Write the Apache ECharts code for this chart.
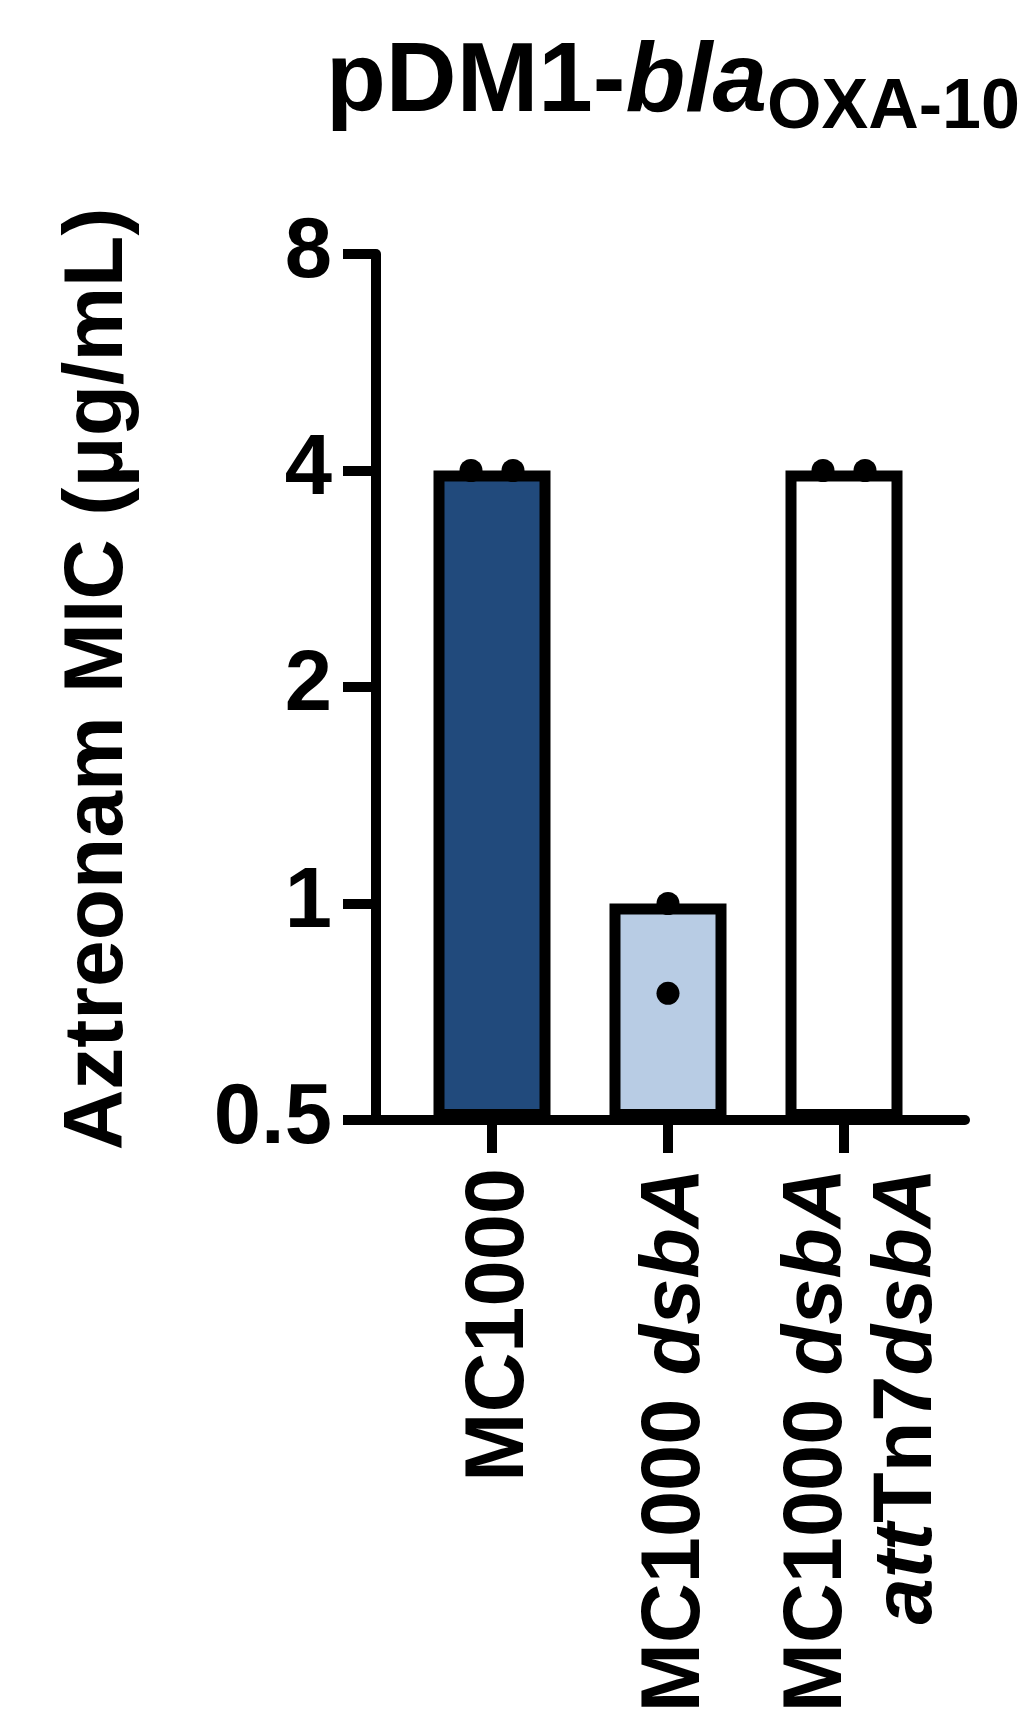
<!DOCTYPE html>
<html>
<head>
<meta charset="utf-8">
<script src="https://cdn.jsdelivr.net/npm/echarts@6/dist/echarts.min.js"></script>
<style>
  html, body { margin: 0; padding: 0; background: #ffffff; }
  #chart { width: 1019px; height: 1734px; }
</style>
</head>
<body>
<div id="chart"></div>
<script>
// ---- data ----
const categories = ['MC1000', 'MC1000 dsbA', 'MC1000 dsbA attTn7dsbA'];
const categoryLabelsRich = [
  '{n|MC1000}',
  '{n|MC1000 }{i|dsbA}',
  '{n|MC1000 }{i|dsbA}\n{i|att}{n|Tn7}{i|dsbA}'
];
const barValues = [4, 1, 4];
const replicateValues = [[4, 4], [1, 0.75], [4, 4]];
const yTickValues = [0.5, 1, 2, 4, 8];
const barColors = ['#214A7C', '#B8CCE4', '#FFFFFF'];
const titleMain = 'pDM1-';
const titleItalic = 'bla';
const titleSub = 'OXA-10';
const yAxisTitle = 'Aztreonam MIC (μg/mL)';

// ---- build ----
const FONT = '"Liberation Sans", Arial, sans-serif';
const dotSpread = 42;
const scatterData = [];
replicateValues.forEach(function (vals, ci) {
  const groups = {};
  vals.forEach(function (v) { (groups[v] = groups[v] || []).push(v); });
  Object.keys(groups).forEach(function (k) {
    const n = groups[k].length;
    groups[k].forEach(function (v, j) {
      scatterData.push({
        value: [ci, v],
        symbolOffset: [(j - (n - 1) / 2) * dotSpread, 0]
      });
    });
  });
});

const labelPadTop = [16, 16, 38];
const xCategoryData = categories.map(function (c, i) {
  return { value: c, textStyle: { padding: [labelPadTop[i], 0, 0, 0] } };
});

const chart = echarts.init(document.getElementById('chart'), null, { renderer: 'canvas' });
const gridTop = 254, gridBottom = 614;
const yMin = yTickValues[0], yMax = yTickValues[yTickValues.length - 1];
const option = {
  animation: false,
  backgroundColor: '#ffffff',
  title: {
    left: 326, top: 24, padding: 0,
    text: '{a|' + titleMain + '}{b|' + titleItalic + '}{c|' + titleSub + '}',
    textStyle: {
      rich: {
        a: { fontFamily: FONT, fontWeight: 'bold', fontSize: 98, lineHeight: 120, color: '#000' },
        b: { fontFamily: FONT, fontWeight: 'bold', fontStyle: 'italic', fontSize: 98, lineHeight: 120, color: '#000' },
        c: { fontFamily: FONT, fontWeight: 'bold', fontSize: 70, lineHeight: 58, verticalAlign: 'bottom', color: '#000' }
      }
    }
  },
  grid: [
    { left: 376, right: 54, top: gridTop, bottom: gridBottom, containLabel: false },
    { left: 404, right: 87, top: gridTop, bottom: gridBottom, containLabel: false }
  ],
  xAxis: [
    {
      gridIndex: 0, type: 'value', min: -0.66, max: 2.69,
      axisLine: { show: true, onZero: false, lineStyle: { color: '#000', width: 10 } },
      axisTick: { show: false }, axisLabel: { show: false }, splitLine: { show: false }
    },
    {
      gridIndex: 1, type: 'category', data: xCategoryData,
      axisLine: { show: false, onZero: false },
      axisTick: { show: true, alignWithLabel: true, length: 33, lineStyle: { color: '#000', width: 10 } },
      axisLabel: {
        rotate: 90, margin: 48, color: '#000',
        formatter: function (v, i) { return categoryLabelsRich[i]; },
        rich: {
          n: { fontFamily: FONT, fontWeight: 'bold', fontSize: 83, lineHeight: 90, color: '#000' },
          i: { fontFamily: FONT, fontWeight: 'bold', fontStyle: 'italic', fontSize: 83, lineHeight: 90, color: '#000' }
        }
      },
      splitLine: { show: false }
    }
  ],
  yAxis: [
    {
      gridIndex: 0, type: 'log', logBase: 2, min: yMin, max: yMax,
      interval: 1,
      name: yAxisTitle, nameLocation: 'middle', nameGap: 235, nameRotate: 90,
      nameTextStyle: { fontFamily: FONT, fontWeight: 'bold', fontSize: 84, color: '#000', padding: [0, 0, 0, 16] },
      axisLine: { show: true, onZero: false, lineStyle: { color: '#000', width: 10 } },
      axisTick: { show: true, length: 33, lineStyle: { color: '#000', width: 10 } },
      axisLabel: {
        margin: 44, fontFamily: FONT, fontWeight: 'bold', fontSize: 85, color: '#000',
        formatter: function (v) { return String(v); }
      },
      splitLine: { show: false }
    },
    {
      gridIndex: 1, type: 'log', logBase: 2, min: yMin, max: yMax, startValue: yMin,
      show: false, axisLine: { onZero: false }, splitLine: { show: false }
    }
  ],
  series: [
    {
      type: 'bar', xAxisIndex: 1, yAxisIndex: 1,
      barWidth: 117,
      data: barValues.map(function (v, i) {
        return { value: v, itemStyle: { color: barColors[i] } };
      }),
      itemStyle: { borderColor: '#000', borderWidth: 11 },
      z: 3
    },
    {
      type: 'scatter', xAxisIndex: 1, yAxisIndex: 1,
      symbol: 'circle', symbolSize: 23,
      itemStyle: { color: '#000', opacity: 1 },
      data: scatterData,
      z: 4
    }
  ]
};
chart.setOption(option);
</script>
</body>
</html>
